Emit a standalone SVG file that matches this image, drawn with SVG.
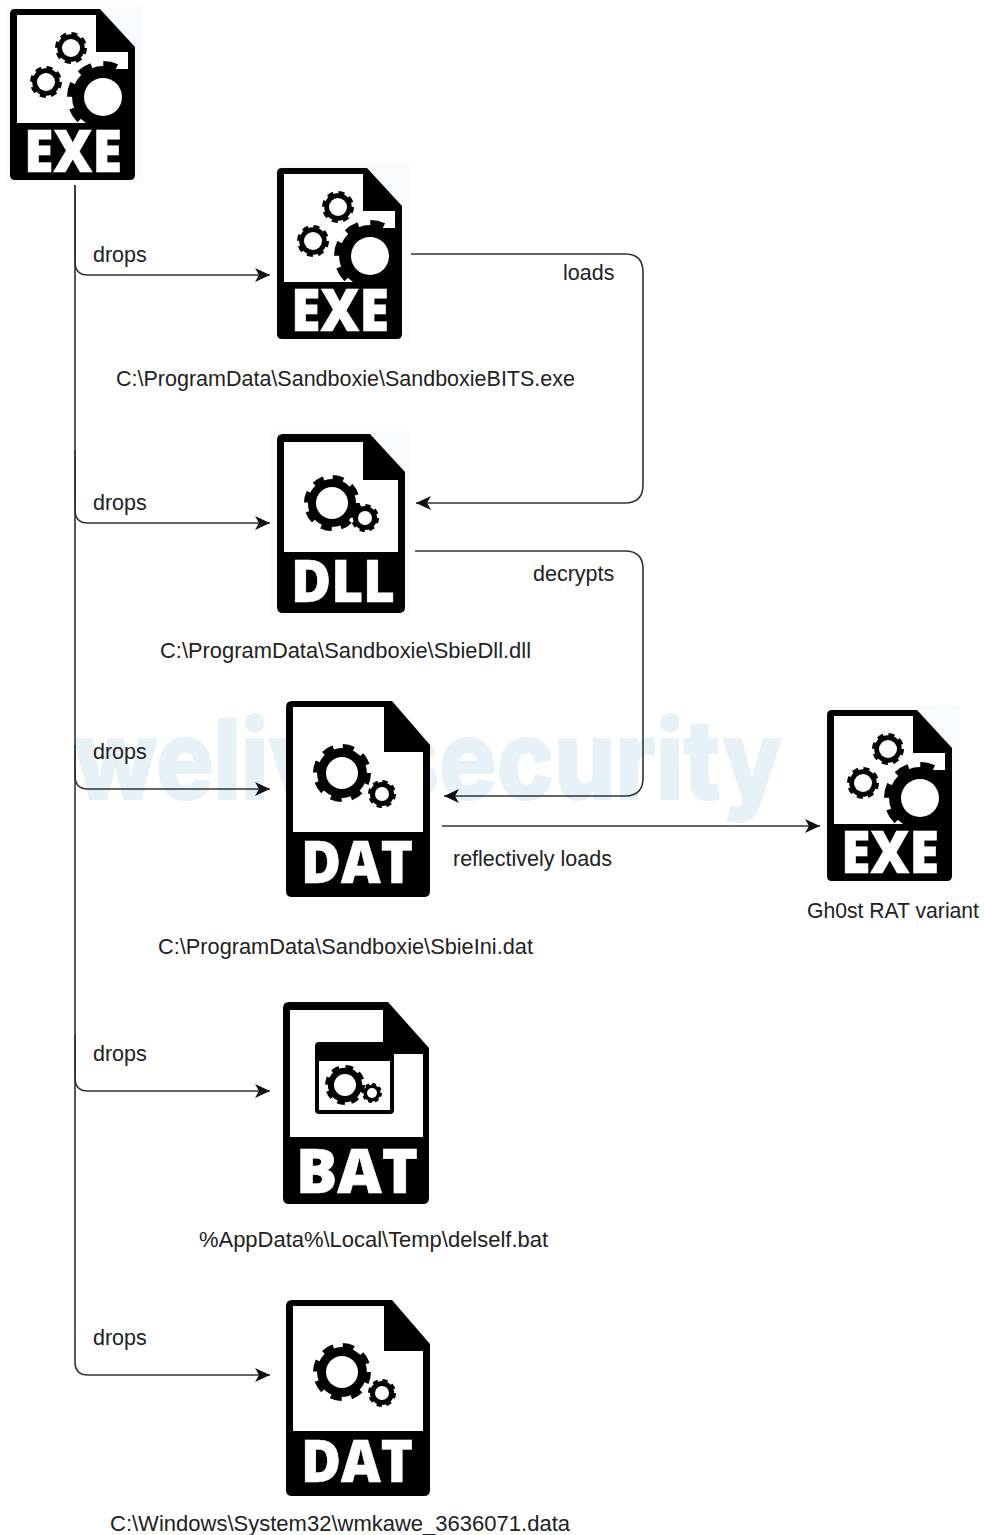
<svg xmlns="http://www.w3.org/2000/svg" width="985" height="1535" viewBox="0 0 985 1535">
<style>
.lbl{font:21.5px "Liberation Sans",Arial,sans-serif;fill:#222}
.ic{font-family:"Open Sans","Liberation Sans",sans-serif;font-weight:800;fill:#fff;stroke:#fff;stroke-width:.6}
.k{fill:#000}.w{fill:#fff}
.c{fill:none;stroke:#333;stroke-width:1.6}
.wm{font-family:Inter,"Liberation Sans",sans-serif;font-weight:800;font-size:110px;fill:#e6f1f8;stroke:#e6f1f8;stroke-width:2}
</style>
<defs>
<marker id="a" markerUnits="userSpaceOnUse" markerWidth="16" markerHeight="14" refX="15" refY="7" orient="auto"><path d="M0 0L15 7L0 14L4 7Z" fill="#111"/></marker>
<clipPath id="ex"><path d="M0 0H125V171H0Z"/></clipPath>
<g id="gear"><circle r=".86" class="k"/><circle r=".9" fill="none" stroke="#000" stroke-width=".2" stroke-dasharray=".38 .327" stroke-linejoin="round"/></g>
<g id="exe">
<rect x="-3" y="-4" width="136" height="177" fill="#fafbfc"/>
<path class="k" d="M5 0H90L125 38V166q0 5-5 5H5q-5 0-5-5V5q0-5 5-5Z"/>
<path class="w" d="M7 6H86V43H118V114H7Z"/>
<use href="#gear" transform="translate(61 39) scale(16)"/><circle cx="61" cy="39" r="9" class="w"/>
<use href="#gear" transform="translate(36 73) scale(16)"/><circle cx="36" cy="73" r="9" class="w"/>
<rect x="93" y="60" width="25" height="54" class="k"/>
<g clip-path="url(#ex)"><use href="#gear" transform="translate(93 88) scale(36)"/></g><circle cx="93" cy="88" r="19" class="w"/>
<text class="ic" x="14" y="163" font-size="58" textLength="98" lengthAdjust="spacingAndGlyphs">EXE</text>
</g>
<g id="dat">
<path class="k" d="M6 0H106L144 44V190q0 6-6 6H6q-6 0-6-6V6q0-6 6-6Z"/>
<path class="w" d="M7 6H98V51H137V131H7Z"/>
<use href="#gear" transform="translate(56 72) scale(29)"/><circle cx="56" cy="72" r="16" class="w"/>
<use href="#gear" transform="translate(96 93) scale(14)"/><circle cx="96" cy="93" r="7" class="w"/>
<text class="ic" x="15" y="182" font-size="58" textLength="112" lengthAdjust="spacingAndGlyphs">DAT</text>
</g>
</defs>
<rect width="985" height="1535" fill="#fff"/>
<text class="wm" x="74" y="799" textLength="708" lengthAdjust="spacingAndGlyphs">welivesecurity</text>

<g id="connectors">
<path class="c" d="M75 185V1362Q75 1375 88 1375H270" marker-end="url(#a)"/>
<path class="c" d="M75 185V262Q75 275 88 275H270" marker-end="url(#a)"/>
<path class="c" d="M75 450V510Q75 523 88 523H270" marker-end="url(#a)"/>
<path class="c" d="M75 745V776Q75 789 88 789H270" marker-end="url(#a)"/>
<path class="c" d="M75 1035V1078Q75 1091 88 1091H270" marker-end="url(#a)"/>
<path class="c" d="M411 254H625Q643 254 643 272V485Q643 503 625 503H416" marker-end="url(#a)"/>
<path class="c" d="M415 551H625Q643 551 643 569V778Q643 796 625 796H444" marker-end="url(#a)"/>
<path class="c" d="M442 826H820" marker-end="url(#a)"/>
</g>
<g id="connector-labels">
<text class="lbl" x="93" y="262">drops</text>
<text class="lbl" x="93" y="510">drops</text>
<text class="lbl" x="93" y="759">drops</text>
<text class="lbl" x="93" y="1061">drops</text>
<text class="lbl" x="93" y="1345">drops</text>
<text class="lbl" x="563" y="280">loads</text>
<text class="lbl" x="533" y="581">decrypts</text>
<text class="lbl" x="453" y="866">reflectively loads</text>
</g>

<g id="node-dropper"><use href="#exe" transform="translate(10 9)"/></g>
<g id="node-sandboxiebits"><use href="#exe" transform="translate(277 168)"/>
<text class="lbl" x="116" y="386" textLength="459" lengthAdjust="spacingAndGlyphs">C:\ProgramData\Sandboxie\SandboxieBITS.exe</text></g>
<g id="node-sbiedll">
<rect x="270" y="431" width="140" height="184" fill="#fafbfc"/>
<path class="k" d="M283 434H370L405 472V607q0 6-6 6H283q-6 0-6-6V440q0-6 6-6Z"/>
<path class="w" d="M284 442H363V480H398V552H284Z"/>
<use href="#gear" transform="translate(332 503) scale(28)"/><circle cx="332" cy="503" r="16" class="w"/>
<use href="#gear" transform="translate(365 518) scale(14)"/><circle cx="365" cy="518" r="7" class="w"/>
<text class="ic" x="291" y="602" font-size="58" textLength="104" lengthAdjust="spacingAndGlyphs">DLL</text>
<text class="lbl" x="160" y="658" textLength="371" lengthAdjust="spacingAndGlyphs">C:\ProgramData\Sandboxie\SbieDll.dll</text></g>
<g id="node-sbieini"><use href="#dat" transform="translate(286 701)"/>
<text class="lbl" x="158" y="954" textLength="375" lengthAdjust="spacingAndGlyphs">C:\ProgramData\Sandboxie\SbieIni.dat</text></g>
<g id="node-ghost"><use href="#exe" transform="translate(827 710)"/>
<text class="lbl" x="807" y="918" textLength="172" lengthAdjust="spacingAndGlyphs">Gh0st RAT variant</text></g>
<g id="node-delself">
<path class="k" d="M289 1002H388L429 1048V1198q0 6-6 6H289q-6 0-6-6V1008q0-6 6-6Z"/>
<path class="w" d="M290 1010H383V1054H423V1137H290Z"/>
<rect x="315" y="1042" width="79" height="72" rx="4" class="k"/>
<rect x="319" y="1061" width="71" height="49" class="w"/>
<use href="#gear" transform="translate(345 1085) scale(20)"/><circle cx="345" cy="1085" r="11" class="w"/>
<use href="#gear" transform="translate(372 1093) scale(10)"/><circle cx="372" cy="1093" r="5" class="w"/>
<text class="ic" x="296" y="1193" font-size="62" textLength="122" lengthAdjust="spacingAndGlyphs">BAT</text>
<text class="lbl" x="199" y="1247" textLength="349" lengthAdjust="spacingAndGlyphs">%AppData%\Local\Temp\delself.bat</text></g>
<g id="node-wmkawe"><use href="#dat" transform="translate(286 1300)"/>
<text class="lbl" x="110" y="1531" textLength="460" lengthAdjust="spacingAndGlyphs">C:\Windows\System32\wmkawe_3636071.data</text></g>
</svg>
